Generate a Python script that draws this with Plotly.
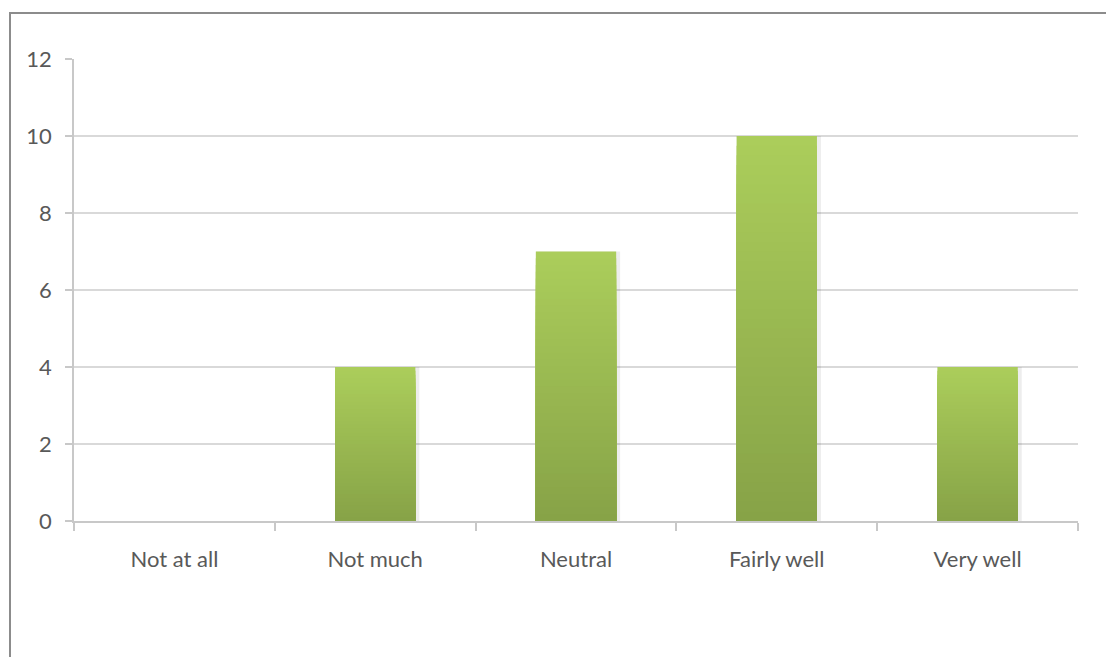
import plotly.graph_objects as go

# Survey responses
categories = ["Not at all", "Not much", "Neutral", "Fairly well", "Very well"]
counts = [0, 4, 7, 10, 4]
y_ticks = [0, 2, 4, 6, 8, 10, 12]

TOP_RGB = (171, 205, 91)
BOTTOM_RGB = (135, 163, 71)
N_LAYERS = 40
BAR_W = 0.4
PX = 1 / 200.8  # one pixel in category units

fig = go.Figure()

# soft drop shadow to the right of each bar
fig.add_trace(go.Bar(
    x=categories, y=counts,
    width=BAR_W + 4 * PX, offset=-BAR_W / 2,
    marker=dict(color="rgba(0,0,0,0.07)", line=dict(width=0)),
    hoverinfo="skip", showlegend=False,
))

# Vertical gradient per bar: overlay progressively shorter, darker bars
for k in range(N_LAYERS):
    frac = k / (N_LAYERS - 1)
    rgb = tuple(round(t + (b - t) * frac) for t, b in zip(TOP_RGB, BOTTOM_RGB))
    scale = (N_LAYERS - k) / N_LAYERS
    fig.add_trace(go.Bar(
        x=categories,
        y=[v * scale for v in counts],
        marker=dict(color="rgb(%d,%d,%d)" % rgb, line=dict(width=0)),
        width=BAR_W, offset=-BAR_W / 2,
        hoverinfo="skip" if k else None,
        showlegend=False,
    ))

axis_font = dict(family="Lato, 'Open Sans', sans-serif", size=22, color="#595959")

fig.update_layout(
    width=1106,
    height=657,
    margin=dict(l=74, r=28, t=59, b=136),
    paper_bgcolor="white",
    plot_bgcolor="white",
    barmode="overlay",
    xaxis=dict(
        type="category",
        tickson="boundaries",
        ticks="outside",
        ticklen=8,
        tickcolor="#c8c8c8",
        tickwidth=1.5,
        showline=True,
        linecolor="#c8c8c8",
        linewidth=1.5,
        showgrid=False,
        tickfont=axis_font,
        ticklabelstandoff=18,
        range=[-0.5, 4.5],
        fixedrange=True,
    ),
    yaxis=dict(
        range=[0, 12],
        tickvals=y_ticks,
        ticks="outside",
        ticklen=7,
        tickcolor="#c8c8c8",
        tickwidth=1.5,
        showline=True,
        linecolor="#c8c8c8",
        linewidth=1.5,
        showgrid=True,
        gridcolor="#d9d9d9",
        gridwidth=1.5,
        zeroline=False,
        tickfont=axis_font,
        ticklabelstandoff=9,
        fixedrange=True,
    ),
    shapes=[
        # chart frame
        dict(type="rect", xref="paper", yref="paper",
             x0=(10 - 74) / 1004, x1=(1112 - 74) / 1004,
             y0=(521 - 665) / 462, y1=1 + (59 - 13) / 462,
             line=dict(color="#8c8c8c", width=2), layer="below"),
    ],
)

fig.write_html("out.html")
